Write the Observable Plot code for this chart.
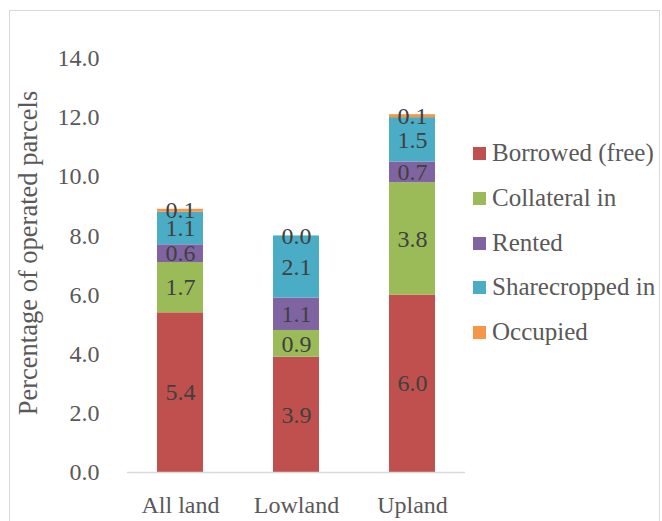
<!DOCTYPE html>
<html>
<head>
<meta charset="utf-8">
<script src="https://cdn.jsdelivr.net/npm/d3@7"></script>
<script src="https://cdn.jsdelivr.net/npm/@observablehq/plot@0.6"></script>
<style>
  html, body { margin: 0; padding: 0; background: #fff; }
  #wrap { position: relative; width: 662px; height: 521px; overflow: hidden; font-family: "Liberation Serif", serif; }
  #border { position: absolute; left: 9px; top: 10px; width: 651px; height: 530px; border: 1.5px solid #d9d9d9; box-sizing: border-box; }
  #chart { position: absolute; left: 0; top: 0; }
  #ytitle { position: absolute; left: 28px; top: 253px; transform: translate(-50%, -50%) rotate(-90deg); white-space: nowrap; font-size: 26.5px; color: #595959; font-family: "Liberation Serif", serif; }
  .leg { position: absolute; left: 473px; height: 30px; display: flex; align-items: center; white-space: nowrap; font-size: 25px; color: #595959; font-family: "Liberation Serif", serif; }
  .sw { width: 13px; height: 13px; margin-right: 6px; flex: none; }
</style>
</head>
<body>
<div id="wrap">
  <div id="border"></div>
  <div id="chart"></div>
  <div id="ytitle"></div>
</div>
<script>
const categories = ["All land", "Lowland", "Upland"];
const series = ["Borrowed (free)", "Collateral in", "Rented", "Sharecropped in", "Occupied"];
const colors = ["#C0504D", "#9BBB59", "#8064A2", "#4BACC6", "#F79646"];
const borrowed = [5.4, 3.9, 6.0];
const collateral = [1.7, 0.9, 3.8];
const rented = [0.6, 1.1, 0.7];
const sharecropped = [1.1, 2.1, 1.5];
const occupied = [0.1, 0.0, 0.1];
const yTicks = [0, 2, 4, 6, 8, 10, 12, 14];
const yTitle = "Percentage of operated parcels";

const valuesBySeries = [borrowed, collateral, rented, sharecropped, occupied];
const data = [];
series.forEach((s, si) => {
  categories.forEach((c, ci) => {
    data.push({ cat: c, series: s, value: valuesBySeries[si][ci] });
  });
});

const chart = Plot.plot({
  width: 662,
  height: 521,
  marginLeft: 127,
  marginRight: 197,
  marginTop: 58,
  marginBottom: 49,
  style: { fontFamily: "'Liberation Serif', serif", fontSize: "24px", color: "#595959", background: "transparent" },
  x: { domain: categories, paddingInner: 0.6, paddingOuter: 0.25, label: null },
  y: { domain: [0, 14], label: null },
  color: { domain: series, range: colors },
  marks: [
    Plot.barY(data, Plot.stackY({ x: "cat", y: "value", fill: "series" })),
    Plot.ruleY([0], { stroke: "#d9d9d9", strokeWidth: 1.5 }),
    Plot.text(data, Plot.stackY({ x: "cat", y: "value", z: "series", text: d => d.value.toFixed(1), fill: "#404040", fontSize: 24 })),
    Plot.axisY({ ticks: yTicks, tickFormat: d => d.toFixed(1), tickSize: 0, tickPadding: 28, label: null }),
    Plot.axisX({ tickSize: 0, tickPadding: 23, label: null })
  ]
});
document.getElementById("chart").appendChild(chart);
document.getElementById("ytitle").textContent = yTitle;

const legendCenters = [153, 198, 243, 287, 332];
const wrap = document.getElementById("wrap");
series.forEach((s, i) => {
  const row = document.createElement("div");
  row.className = "leg";
  row.style.top = (legendCenters[i] - 15) + "px";
  const sw = document.createElement("div");
  sw.className = "sw";
  sw.style.background = colors[i];
  const t = document.createElement("span");
  t.textContent = s;
  row.appendChild(sw);
  row.appendChild(t);
  wrap.appendChild(row);
});
</script>
</body>
</html>
